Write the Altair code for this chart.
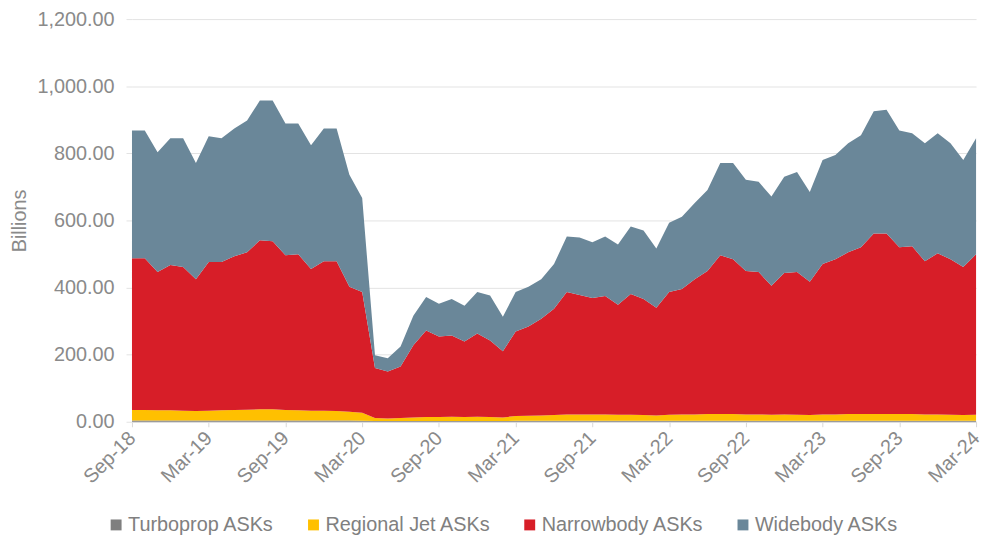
import altair as alt
import pandas as pd

series_names = ["Turboprop ASKs", "Regional Jet ASKs", "Narrowbody ASKs", "Widebody ASKs"]
series_colors = ["#7F7F7F", "#FFC000", "#D71E28", "#6A8799"]

tick_labels = ["Sep-18", "Mar-19", "Sep-19", "Mar-20", "Sep-20", "Mar-21",
               "Sep-21", "Mar-22", "Sep-22", "Mar-23", "Sep-23", "Mar-24"]

# Monthly, Sep-18 .. Mar-24 (billions of ASKs)
turboprop = [4, 4, 4, 4, 4, 4, 4, 4, 4, 4, 4, 4, 4, 4, 4, 4, 4, 4, 3,
             2, 2, 2, 2, 2, 2, 2, 2, 2, 2, 2,
             3, 3, 3, 3, 3, 3, 3, 3, 3, 3, 3, 3, 3, 3, 3, 3, 3, 3, 3, 3, 3, 3, 3, 3,
             3, 3, 3, 3, 3, 3, 3, 3, 3, 3, 3, 3, 3]
regional = [31, 31, 30, 30, 29, 28, 29, 30, 31, 32, 33, 33, 31, 30, 29, 29, 28, 26, 24,
            9, 8, 9, 11, 12, 12, 13, 12, 13, 12, 11,
            14, 15, 16, 17, 19, 19, 19, 19, 18, 18, 17, 16, 18, 19, 19, 20, 20, 20, 19, 19, 18, 19, 18, 17,
            19, 19, 20, 20, 20, 20, 20, 20, 19, 19, 18, 17, 18]
narrowbody = [452, 452, 412, 433, 428, 393, 443, 442, 458, 469, 504, 501, 461, 465, 422, 445, 446, 372, 360,
              149, 140, 154, 215, 258, 240, 242, 225, 248, 228, 197,
              252, 266, 288, 317, 365, 356, 347, 353, 328, 360, 346, 321, 366, 374, 403, 426, 473, 461, 427, 424, 384, 421, 425, 397,
              448, 462, 482, 497, 538, 538, 497, 500, 456, 480, 463, 441, 478]
widebody = [381, 381, 357, 378, 384, 346, 375, 369, 381, 393, 416, 419, 393, 390, 369, 396, 396, 334, 280,
            38, 39, 59, 88, 100, 98, 109, 107, 124, 134, 103,
            118, 118, 118, 133, 165, 171, 166, 177, 179, 201, 204, 176, 206, 215, 227, 242, 275, 287, 272, 269, 266, 287, 298, 268,
            310, 311, 325, 334, 364, 369, 348, 337, 352, 358, 346, 319, 346]

all_series = [turboprop, regional, narrowbody, widebody]
rows = []
for k, (name, vals) in enumerate(zip(series_names, all_series)):
    for i, v in enumerate(vals):
        rows.append({"m": i, "series": name, "ord": k, "value": v})
df = pd.DataFrame(rows)

label_arr = "[" + ",".join("'%s'" % t for t in tick_labels) + "]"
FONT = "Liberation Sans"
FS = 20

chart = alt.Chart(df).mark_area(interpolate="linear").encode(
    x=alt.X("m:Q",
            scale=alt.Scale(domain=[0, 66], nice=False, zero=False),
            axis=alt.Axis(title=None, values=list(range(0, 67, 6)),
                          labelExpr=label_arr + "[round(datum.value/6)]",
                          labelAngle=-45, labelAlign="right", labelBaseline="middle",
                          labelFontSize=FS, labelColor="#8a8a8a",
                          labelFont=FONT, grid=False, domainColor="#d9d9d9",
                          tickColor="#d9d9d9", tickSize=5, labelPadding=8)),
    y=alt.Y("value:Q", stack="zero",
            scale=alt.Scale(domain=[0, 1200], nice=False),
            axis=alt.Axis(title="Billions", values=list(range(0, 1201, 200)),
                          format=",.2f", labelFontSize=FS, labelColor="#8a8a8a",
                          labelFont=FONT, titleFont=FONT, titleFontSize=20,
                          titleColor="#8a8a8a", titleFontWeight="normal",
                          titlePadding=8, domain=False, tickColor="#e3e3e3",
                          tickSize=6, labelPadding=12, gridColor="#e3e3e3")),
    color=alt.Color("series:N",
                    scale=alt.Scale(domain=series_names, range=series_colors),
                    legend=alt.Legend(title=None, orient="none", direction="horizontal",
                                      legendX=-26, legendY=500,
                                      symbolType="square", symbolSize=121,
                                      symbolStrokeWidth=0, labelFontSize=FS,
                                      labelFont=FONT, labelColor="#808080",
                                      labelLimit=400,
                                      columnPadding=29, labelOffset=2)),
    order=alt.Order("ord:Q", sort="ascending"),
).properties(
    width=851, height=406,
    autosize=alt.AutoSizeParams(type="none"),
    padding={"left": 125, "top": 9, "right": 8, "bottom": 113},
).configure_view(stroke=None)

chart.save("out.html", embed_options={"renderer": "svg", "actions": False})
